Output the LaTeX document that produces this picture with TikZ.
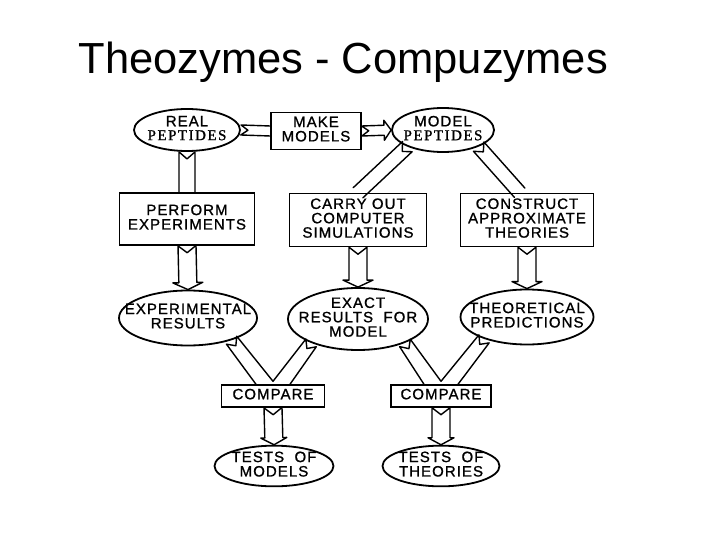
\documentclass[tikz,border=0pt]{standalone}
\usepackage{fontspec}
\setmainfont{Liberation Sans}
\newfontfamily\lett[LetterSpace=7,FakeBold=1]{Liberation Sans}
\newfontfamily\pepfont[LetterSpace=10,FakeBold=1]{Liberation Serif}
\usetikzlibrary{shapes.geometric,calc}
\newcommand{\tl}[1]{\makebox[0pt]{\begin{tabular}{@{}c@{}}#1\end{tabular}}}
% broad shaft with notched tail, no head
\newcommand{\shaft}[3]{%
  \path (#1) coordinate (hs) (#2) coordinate (he);
  \draw[arr] ($(he)!#3pt!90:(hs)$) -- ($(hs)!#3pt!-90:(he)$) -- ($(hs)!7pt!(he)$)
    -- ($(hs)!#3pt!90:(he)$) -- ($(he)!#3pt!-90:(hs)$);
}
% broad hollow arrow with notched tail and head
\newcommand{\harrow}[4]{%
  \path (#1) coordinate (hs) (#2) coordinate (he);
  \path ($(he)!7pt!(hs)$) coordinate (hb);
  \draw[arr] ($(hs)!#3pt!-90:(he)$) -- ($(hb)!#3pt!90:(hs)$) -- ($(hb)!#4pt!90:(hs)$)
    -- (he) -- ($(hb)!#4pt!-90:(hs)$) -- ($(hb)!#3pt!-90:(hs)$)
    -- ($(hs)!#3pt!90:(he)$) -- ($(hs)!7pt!(he)$) -- cycle;
}
% two broad shafts joining in a Y on top of a box
\newcommand{\yjoin}[3]{%
  \path (#1) coordinate (ya) (#2) coordinate (yb) (#3.north) coordinate (yt);
  \path ($(yt)+(-17,0)$) coordinate (ylo) ($(yt)+(17,0)$) coordinate (yro)
        ($(yt)+(0,-3)$) coordinate (yv);
  \path ($(ylo)!.5!(yv)$) coordinate (yml) ($(yro)!.5!(yv)$) coordinate (ymr);
  \draw[arr] (ylo) -- ($(ya)!6.5pt!-90:(yml)$) -- ($(ya)!7pt!(yml)$)
    -- ($(ya)!6.5pt!90:(yml)$) -- (yv) -- ($(yb)!6.5pt!-90:(ymr)$)
    -- ($(yb)!7pt!(ymr)$) -- ($(yb)!6.5pt!90:(ymr)$) -- (yro);
}
\begin{document}
\begin{tikzpicture}[x=1pt,y=-1pt,
  every node/.style={font=\lett\fontsize{15}{13}\selectfont},
  ell/.style={ellipse, draw, line width=1.8pt, inner sep=0pt},
  box/.style={rectangle, draw, line width=1.4pt, inner sep=0pt},
  arr/.style={line width=1.4pt, line join=round, line cap=round}]
\useasboundingbox[fill=white] (0,0) rectangle (720,540);

\node[anchor=base west, font=\normalfont\fontsize{43.5}{50}\selectfont] (title) at (75,74) {Theozymes - Compuzymes};

% top row
\node[ell, minimum width=106, minimum height=42] (rp) at (187,130)
  {\tl{REAL\\{\pepfont\fontsize{15}{13}\selectfont PEPTIDES}}};
\node[box, minimum width=90, minimum height=37] (mm) at (316,131) {\tl{MAKE\\MODELS}};
\node[ell, minimum width=102, minimum height=44] (mp) at (443,130)
  {\tl{MODEL\\{\pepfont\fontsize{15}{13}\selectfont PEPTIDES}}};

% second row
\node[box, minimum width=135, minimum height=52] (pe) at (187,219) {\tl{PERFORM\\EXPERIMENTS}};
\node[box, minimum width=137, minimum height=53] (cs) at (358,220) {\tl{CARRY OUT\\COMPUTER\\SIMULATIONS}};
\node[box, minimum width=133, minimum height=53] (ca) at (527,220) {\tl{CONSTRUCT\\APPROXIMATE\\THEORIES}};

% third row
\node[ell, minimum width=138, minimum height=55] (er) at (188,318) {\tl{EXPERIMENTAL\\RESULTS}};
\node[ell, minimum width=140, minimum height=62] (exm) at (358,319) {\tl{EXACT\\RESULTS \ FOR\\MODEL}};
\node[ell, minimum width=133, minimum height=55] (tp) at (527,317) {\tl{THEORETICAL\\PREDICTIONS}};

% compare
\node[box, minimum width=103, minimum height=22] (cmp1) at (273,396) {\tl{COMPARE}};
\node[box, minimum width=100, minimum height=22] (cmp2) at (441,396) {\tl{COMPARE}};

% tests
\node[ell, minimum width=119, minimum height=40] (tm) at (274,466) {\tl{TESTS \ OF\\MODELS}};
\node[ell, minimum width=117, minimum height=40] (tt) at (441,466) {\tl{TESTS \ OF\\THEORIES}};

% connectors
\shaft{rp.east}{mm.west}{5}
\harrow{mm.east}{mp.west}{5}{10}
\shaft{rp.south}{pe.north}{8}
\shaft{mp.205}{cs.north}{7}
\shaft{mp.335}{ca.105}{7}
\harrow{pe.south}{er.north}{9}{15}
\harrow{cs.south}{exm.north}{9}{15}
\harrow{ca.south}{tp.north}{9}{15}
\yjoin{er.333}{exm.207}{cmp1}
\yjoin{exm.333}{tp.207}{cmp2}
\harrow{cmp1.south}{tm.north}{9}{13}
\harrow{cmp2.south}{tt.north}{9}{13}
\end{tikzpicture}
\end{document}
